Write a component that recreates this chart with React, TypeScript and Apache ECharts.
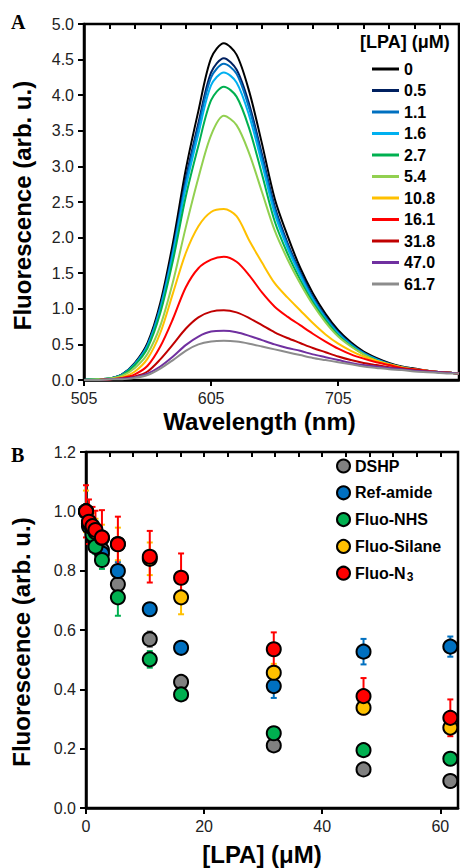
import React, { useEffect, useRef } from "react";
import * as echarts from "echarts";

// ---------- Panel A data ----------
const wavelengths = [505, 515, 525, 535, 545, 555, 565, 575, 585, 595, 605, 615, 625, 635, 645, 655, 665, 675, 685, 695, 705, 715, 725, 735, 745, 755, 765, 775, 785, 795, 800];
const lpaLabels = ["0", "0.5", "1.1", "1.6", "2.7", "5.4", "10.8", "16.1", "31.8", "47.0", "61.7"];
const lpaColors = ["#000000", "#002060", "#0070C0", "#00B0F0", "#00B050", "#92D050", "#FFC000", "#FF0000", "#C00000", "#7030A0", "#8C8C8C"];
const s0 = [0.00, 0.01, 0.02, 0.08, 0.24, 0.52, 1.08, 1.93, 2.95, 3.78, 4.52, 4.73, 4.57, 4.05, 3.32, 2.55, 2.03, 1.58, 1.22, 0.93, 0.70, 0.53, 0.40, 0.31, 0.24, 0.19, 0.16, 0.13, 0.11, 0.10, 0.09];
const s05 = [0.00, 0.01, 0.02, 0.08, 0.23, 0.50, 1.03, 1.84, 2.82, 3.61, 4.32, 4.52, 4.36, 3.87, 3.17, 2.44, 1.93, 1.52, 1.17, 0.89, 0.67, 0.51, 0.38, 0.30, 0.23, 0.18, 0.15, 0.13, 0.11, 0.10, 0.09];
const s11 = [0.00, 0.01, 0.02, 0.08, 0.23, 0.49, 1.02, 1.81, 2.77, 3.55, 4.25, 4.44, 4.30, 3.81, 3.12, 2.40, 1.90, 1.50, 1.15, 0.88, 0.66, 0.50, 0.38, 0.29, 0.23, 0.18, 0.15, 0.13, 0.11, 0.10, 0.09];
const s16 = [0.00, 0.01, 0.02, 0.07, 0.22, 0.48, 0.99, 1.77, 2.70, 3.46, 4.14, 4.32, 4.18, 3.71, 3.04, 2.34, 1.86, 1.47, 1.13, 0.86, 0.65, 0.49, 0.37, 0.29, 0.22, 0.18, 0.15, 0.12, 0.11, 0.10, 0.09];
const s27 = [0.00, 0.01, 0.02, 0.07, 0.21, 0.45, 0.94, 1.68, 2.57, 3.29, 3.93, 4.12, 3.98, 3.53, 2.89, 2.23, 1.78, 1.41, 1.09, 0.84, 0.63, 0.48, 0.36, 0.28, 0.22, 0.17, 0.14, 0.12, 0.11, 0.10, 0.09];
const s54 = [0.00, 0.01, 0.02, 0.06, 0.17, 0.37, 0.76, 1.38, 2.14, 2.84, 3.44, 3.71, 3.58, 3.18, 2.64, 2.10, 1.70, 1.36, 1.06, 0.81, 0.61, 0.47, 0.36, 0.27, 0.21, 0.17, 0.14, 0.12, 0.11, 0.10, 0.09];
const s108 = [0.00, 0.00, 0.01, 0.04, 0.12, 0.30, 0.66, 1.22, 1.78, 2.16, 2.36, 2.40, 2.30, 1.96, 1.65, 1.36, 1.16, 0.98, 0.80, 0.64, 0.51, 0.41, 0.33, 0.27, 0.22, 0.18, 0.15, 0.13, 0.11, 0.10, 0.09];
const s161 = [0.00, 0.00, 0.01, 0.03, 0.08, 0.20, 0.47, 0.86, 1.30, 1.57, 1.69, 1.73, 1.66, 1.47, 1.23, 1.03, 0.89, 0.77, 0.65, 0.54, 0.44, 0.36, 0.30, 0.25, 0.21, 0.17, 0.15, 0.13, 0.11, 0.10, 0.09];
const s318 = [0.00, 0.00, 0.01, 0.02, 0.05, 0.12, 0.29, 0.50, 0.72, 0.88, 0.96, 0.98, 0.95, 0.87, 0.77, 0.67, 0.59, 0.52, 0.45, 0.39, 0.33, 0.28, 0.24, 0.21, 0.18, 0.16, 0.14, 0.12, 0.11, 0.10, 0.09];
const s470 = [0.00, 0.00, 0.01, 0.02, 0.04, 0.09, 0.19, 0.33, 0.49, 0.61, 0.68, 0.69, 0.67, 0.62, 0.56, 0.50, 0.45, 0.41, 0.36, 0.32, 0.28, 0.24, 0.21, 0.19, 0.17, 0.15, 0.13, 0.12, 0.11, 0.10, 0.09];
const s617 = [0.00, 0.00, 0.01, 0.01, 0.03, 0.07, 0.16, 0.28, 0.41, 0.50, 0.54, 0.55, 0.54, 0.51, 0.47, 0.43, 0.39, 0.35, 0.31, 0.28, 0.25, 0.22, 0.19, 0.17, 0.15, 0.14, 0.12, 0.11, 0.10, 0.09, 0.09];
const spectra = [s0, s05, s11, s16, s27, s54, s108, s161, s318, s470, s617];

// ---------- Panel B data ----------
const concentrations = [0, 0.5, 1.1, 1.6, 2.7, 5.4, 10.8, 16.1, 31.8, 47.0, 61.7];
const probeNames = ["DSHP", "Ref-amide", "Fluo-NHS", "Fluo-Silane", "Fluo-N3"];
const probeColors = ["#808080", "#0070C0", "#00B050", "#FFC000", "#FF0000"];
const dshp = [1.0, 0.96, 0.94, 0.92, 0.87, 0.754, 0.569, 0.425, 0.211, 0.130, 0.091];
const refAmide = [1.0, 0.96, 0.93, 0.90, 0.858, 0.799, 0.670, 0.540, 0.411, 0.527, 0.544];
const fluoNHS = [1.0, 0.95, 0.92, 0.881, 0.836, 0.710, 0.501, 0.383, 0.252, 0.195, 0.166];
const fluoSilane = [1.0, 0.96, 0.945, 0.93, 0.91, 0.89, 0.84, 0.710, 0.456, 0.338, 0.271];
const fluoN3 = [1.0, 0.965, 0.950, 0.937, 0.912, 0.889, 0.847, 0.776, 0.535, 0.377, 0.304];
const dshpErr = [0.02, 0.02, 0.02, 0.02, 0.02, 0.02, 0.026, 0.02, 0.01, 0.01, 0.01];
const refAmideErr = [0.02, 0.02, 0.02, 0.02, 0.03, 0.03, 0.02, 0.02, 0.04, 0.043, 0.034];
const fluoNHSErr = [0.02, 0.02, 0.02, 0.025, 0.03, 0.062, 0.028, 0.02, 0.02, 0.02, 0.02];
const fluoSilaneErr = [0.07, 0.05, 0.05, 0.045, 0.045, 0.055, 0.055, 0.057, 0.03, 0.02, 0.02];
const fluoN3Err = [0.088, 0.075, 0.065, 0.065, 0.092, 0.093, 0.087, 0.082, 0.057, 0.061, 0.062];
const probeValues = [dshp, refAmide, fluoNHS, fluoSilane, fluoN3];
const probeErrors = [dshpErr, refAmideErr, fluoNHSErr, fluoSilaneErr, fluoN3Err];

const FONT = "Liberation Sans, Arial, sans-serif";

export default function App() {
  const ref = useRef<HTMLDivElement>(null);
  useEffect(() => {
    if (!ref.current) return;
    const chart = echarts.init(ref.current, null, { renderer: "svg" });

    const axisLine = { show: true, lineStyle: { color: "#000", width: 2.5 } };
    const labelStyle = { fontSize: 16, color: "#222", fontFamily: FONT };
    const nameStyle = { fontSize: 24, fontWeight: "bold" as const, color: "#000", fontFamily: FONT };

    const lineSeries = spectra.map((arr, i) => ({
      name: lpaLabels[i],
      type: "line",
      xAxisIndex: 0,
      yAxisIndex: 0,
      symbol: "none",
      smooth: 0.3,
      lineStyle: { color: lpaColors[i], width: 2 },
      itemStyle: { color: lpaColors[i] },
      data: wavelengths.map((w, k) => [w, arr[k]]),
      z: 3,
    }));

    const errSeries = probeValues.map((vals, i) => ({
      name: probeNames[i] + " error",
      type: "custom",
      xAxisIndex: 2,
      yAxisIndex: 1,
      z: 2,
      encode: { x: 0, y: 1 },
      data: concentrations.map((c, k) => [c, vals[k], probeErrors[i][k]]),
      renderItem: (params: any, api: any) => {
        const x = api.value(0);
        const y = api.value(1);
        const e = api.value(2);
        const top = api.coord([x, y + e]);
        const bot = api.coord([x, y - e]);
        const style = { stroke: probeColors[i], lineWidth: 2 };
        return {
          type: "group",
          children: [
            { type: "line", shape: { x1: top[0], y1: top[1], x2: bot[0], y2: bot[1] }, style },
            { type: "line", shape: { x1: top[0] - 3, y1: top[1], x2: top[0] + 3, y2: top[1] }, style },
            { type: "line", shape: { x1: bot[0] - 3, y1: bot[1], x2: bot[0] + 3, y2: bot[1] }, style },
          ],
        };
      },
    }));

    const scatterSeries = probeValues.map((vals, i) => ({
      name: probeNames[i],
      type: "scatter",
      xAxisIndex: 2,
      yAxisIndex: 1,
      symbol: "circle",
      symbolSize: 14,
      itemStyle: { color: probeColors[i], borderColor: "#000", borderWidth: 2, opacity: 1 },
      data: concentrations.map((c, k) => [c, vals[k]]),
      z: 4,
    }));

    chart.setOption({
      animation: false,
      backgroundColor: "#fff",
      grid: [
        { left: 84, top: 24, width: 375, height: 356, show: true, borderColor: "#000", borderWidth: 2.5 },
        { left: 86, top: 452, width: 372, height: 356, show: true, borderColor: "#000", borderWidth: 2.5 },
      ],
      xAxis: [
        {
          gridIndex: 0, type: "value", min: 505, max: 800, interval: 100,
          axisLine, axisTick: { show: true, inside: false, length: 6, lineStyle: { color: "#000", width: 2 } },
          axisLabel: { ...labelStyle, margin: 10, showMaxLabel: false },
          splitLine: { show: false },
          name: "Wavelength (nm)", nameLocation: "middle", nameGap: 29,
          nameTextStyle: { ...nameStyle, padding: [0, 24, 0, 0] },
        },
        {
          gridIndex: 0, type: "value", min: 505, max: 800, interval: 20,
          axisLine: { show: false }, axisTick: { show: true, inside: true, length: 5, lineStyle: { color: "#000", width: 2 } },
          axisLabel: { show: false }, splitLine: { show: false },
        },
        {
          gridIndex: 1, type: "value", min: 0, max: 63, interval: 20,
          axisLine, axisTick: { show: true, inside: false, length: 6, lineStyle: { color: "#000", width: 2 } },
          axisLabel: { ...labelStyle, margin: 10, showMaxLabel: false },
          splitLine: { show: false },
          name: "[LPA] (μM)", nameLocation: "middle", nameGap: 34,
          nameTextStyle: { ...nameStyle, padding: [0, 20, 0, 0] },
        },
        {
          gridIndex: 1, type: "value", min: 0, max: 63, interval: 4,
          axisLine: { show: false }, axisTick: { show: true, inside: true, length: 5, lineStyle: { color: "#000", width: 2 } },
          axisLabel: { show: false }, splitLine: { show: false },
        },
      ],
      yAxis: [
        {
          gridIndex: 0, type: "value", min: 0, max: 5, interval: 0.5,
          axisLine, axisTick: { show: true, length: 6, lineStyle: { color: "#000", width: 2 } },
          axisLabel: { ...labelStyle, margin: 10, formatter: (v: number) => v.toFixed(1) },
          splitLine: { show: false },
          name: "Fluorescence (arb. u.)", nameLocation: "middle", nameGap: 50,
          nameTextStyle: { ...nameStyle, padding: [0, 7, 0, 0] },
        },
        {
          gridIndex: 1, type: "value", min: 0, max: 1.2, interval: 0.2,
          axisLine, axisTick: { show: true, length: 6, lineStyle: { color: "#000", width: 2 } },
          axisLabel: { ...labelStyle, margin: 10, formatter: (v: number) => v.toFixed(1) },
          splitLine: { show: false },
          name: "Fluorescence (arb. u.)", nameLocation: "middle", nameGap: 53,
          nameTextStyle: { ...nameStyle, padding: [0, 24, 0, 0] },
        },
      ],
      legend: [
        {
          data: lpaLabels, orient: "vertical", left: 372, top: 61, padding: 0,
          icon: "rect", itemWidth: 27, itemHeight: 3, itemGap: 5.5,
          textStyle: { fontSize: 16, fontWeight: "bold", color: "#000", fontFamily: FONT },
          selectedMode: false,
        },
        {
          data: probeNames, orient: "vertical", left: 336, top: 458, padding: 0,
          itemWidth: 13, itemHeight: 13, itemGap: 10.8,
          formatter: (name: string) => (name === "Fluo-N3" ? "Fluo-N{sub|3}" : name),
          textStyle: {
            fontSize: 16, fontWeight: "bold", color: "#000", fontFamily: FONT,
            rich: { sub: { fontSize: 12, fontWeight: "bold", color: "#000", fontFamily: FONT, verticalAlign: "bottom", padding: [8, 0, 0, 1] } },
          },
          selectedMode: false,
        },
      ],
      graphic: [
        { type: "text", left: 11, top: 12, style: { text: "A", font: "bold 20px 'Liberation Serif', 'Times New Roman', serif", fill: "#000" } },
        { type: "text", left: 11, top: 445, style: { text: "B", font: "bold 20px 'Liberation Serif', 'Times New Roman', serif", fill: "#000" } },
        { type: "text", left: 360, top: 33, style: { text: "[LPA] (μM)", font: `bold 18px ${FONT}`, fill: "#000" } },
      ],
      series: [...lineSeries, ...errSeries, ...scatterSeries],
    });

    return () => chart.dispose();
  }, []);

  return <div ref={ref} style={{ position: "fixed", left: 0, top: 0, width: 460, height: 868, background: "#fff" }} />;
}
